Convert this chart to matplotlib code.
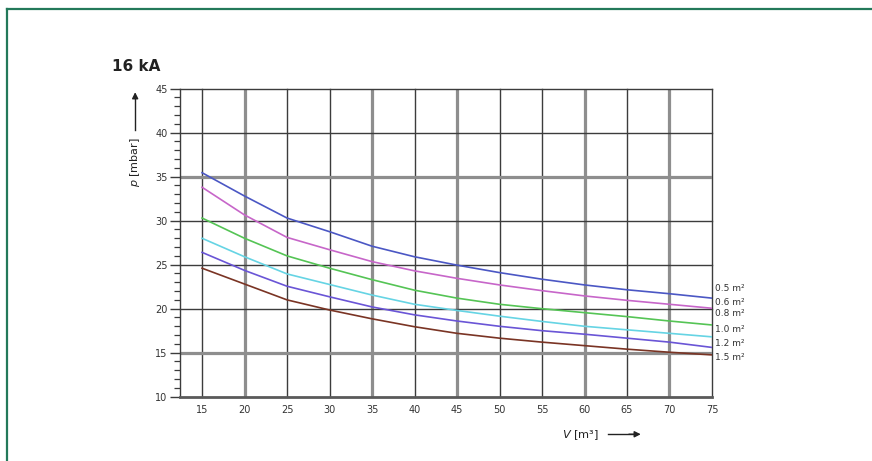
import matplotlib
matplotlib.use("Agg")
import matplotlib.pyplot as plt
from matplotlib.lines import Line2D
from matplotlib.ticker import MultipleLocator

plt.rcParams["font.family"] = ["Liberation Sans Narrow", "DejaVu Sans"]

# volume V [m3] and pressure p [mbar] per vent area
V = [15, 20, 25, 30, 35, 40, 45, 50, 55, 60, 65, 70, 75]
p_05 = [35.45, 32.8, 30.3, 28.75, 27.1, 25.9, 24.95, 24.1, 23.35, 22.7, 22.15, 21.7, 21.2]
p_06 = [33.8, 30.65, 28.1, 26.7, 25.35, 24.3, 23.45, 22.7, 22.05, 21.45, 20.95, 20.5, 20.05]
p_08 = [30.3, 28.0, 26.0, 24.6, 23.3, 22.1, 21.2, 20.5, 20.0, 19.55, 19.1, 18.6, 18.15]
p_10 = [28.0, 25.9, 23.95, 22.75, 21.55, 20.5, 19.8, 19.15, 18.55, 18.0, 17.6, 17.2, 16.8]
p_12 = [26.4, 24.35, 22.55, 21.35, 20.2, 19.3, 18.6, 18.0, 17.5, 17.1, 16.65, 16.2, 15.6]
p_15 = [24.6, 22.8, 21.0, 19.85, 18.85, 17.95, 17.2, 16.65, 16.2, 15.8, 15.4, 15.05, 14.75]

series = [p_05, p_06, p_08, p_10, p_12, p_15]
area_labels = ["0.5 m²", "0.6 m²", "0.8 m²", "1.0 m²", "1.2 m²", "1.5 m²"]
label_y = [22.35, 20.76, 19.5, 17.6, 16.0, 14.4]
colors = ["#4b57c4", "#c766c9", "#55c455", "#66d4e4", "#6a55d6", "#7a3424"]

x_ticks = [15, 20, 25, 30, 35, 40, 45, 50, 55, 60, 65, 70, 75]
y_ticks = [10, 15, 20, 25, 30, 35, 40, 45]
heavy_x = [20, 35, 45, 60, 70]
heavy_y = [15, 35]

fig = plt.figure(figsize=(8.72, 4.61), dpi=100)
ax = fig.add_axes([0.2064, 0.1395, 0.6101, 0.6681])
ax.set_xlim(12.4, 75)
ax.set_ylim(10, 45)

# grid: heavy grey and thin dark lines
for x in x_ticks:
    if x in heavy_x:
        ax.axvline(x, color="#8e8e8e", lw=2.3, zorder=1)
    else:
        ax.axvline(x, color="#3c3c3c", lw=1.0, zorder=1, clip_on=False)
for y in y_ticks[1:]:
    if y in heavy_y:
        ax.axhline(y, color="#8e8e8e", lw=2.3, zorder=1)
    else:
        ax.axhline(y, color="#3c3c3c", lw=1.0, zorder=1, clip_on=False)

for s, c in zip(series, colors):
    ax.plot(V, s, color=c, lw=1.2, zorder=3)

for lab, y in zip(area_labels, label_y):
    ax.text(75.4, y, lab, fontsize=6.5, color="#333333", ha="left", va="center",
            clip_on=False)

for side in ["top", "right"]:
    ax.spines[side].set_visible(False)
ax.spines["left"].set_color("#3c3c3c")
ax.spines["left"].set_linewidth(1.0)
ax.spines["bottom"].set_color("#5a5a5a")
ax.spines["bottom"].set_linewidth(2.0)

ax.set_xticks(x_ticks)
ax.set_yticks(y_ticks)
ax.yaxis.set_minor_locator(MultipleLocator(1))
ax.tick_params(axis="x", length=0, pad=6, labelsize=7, labelcolor="#333333")
ax.tick_params(axis="y", which="major", length=7, width=1.0, color="#3c3c3c",
               pad=2, labelsize=7, labelcolor="#333333")
ax.tick_params(axis="y", which="minor", length=4, width=0.9, color="#3c3c3c")

# title and axis labels with arrows
fig.text(0.128, 0.855, "16 kA", fontsize=11, fontweight="bold", color="#222222",
         ha="left", va="center")

fig.text(0.155, 0.594, r"$\it{p}$ [mbar]", rotation=90, fontsize=8, color="#222222",
         ha="center", va="bottom")
fig.add_artist(Line2D([0.155, 0.155], [0.718, 0.79], color="#222222", lw=1.0))
ax.annotate("", xy=(0.155, 0.806), xytext=(0.155, 0.78), xycoords="figure fraction",
            arrowprops=dict(arrowstyle="-|>", color="#222222", lw=1.0,
                            mutation_scale=9))

fig.text(0.645, 0.056, r"$\it{V}$ [m³]", fontsize=8.2, color="#222222",
         ha="left", va="center")
fig.add_artist(Line2D([0.697, 0.728], [0.058, 0.058], color="#222222", lw=1.0))
ax.annotate("", xy=(0.738, 0.058), xytext=(0.718, 0.058), xycoords="figure fraction",
            arrowprops=dict(arrowstyle="-|>", color="#222222", lw=1.0,
                            mutation_scale=9))

# green frame on top and left
frame_c = "#23795a"
fig.add_artist(Line2D([7 / 872, 7 / 872], [0, 1 - 9 / 461], color=frame_c, lw=1.6))
fig.add_artist(Line2D([7 / 872, 1], [1 - 9 / 461, 1 - 9 / 461], color=frame_c, lw=1.6))

fig.savefig("out.png", dpi=100)
